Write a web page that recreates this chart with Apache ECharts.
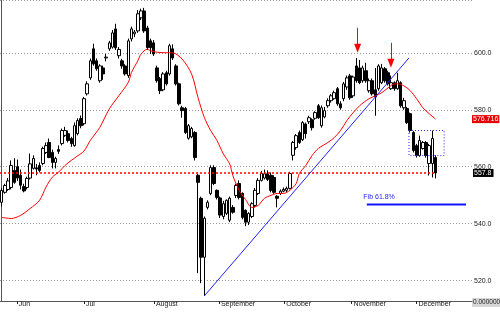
<!DOCTYPE html>
<html><head><meta charset="utf-8">
<script src="https://cdn.jsdelivr.net/npm/echarts@6/dist/echarts.min.js"></script>
<style>html,body{margin:0;padding:0;background:#fff}#c{width:500px;height:312px}</style>
</head><body><div id="c"></div>
<script>
// ---- data ----
const dayCount = 149;
const dayCategories = Array.from({length: dayCount}, (_, i) => 'day' + i);
// [open, close, low, high]
const candles = [
[547.5,551.7,546.0,552.5],[551.0,553.4,550.5,554.0],[552.0,555.0,551.5,556.0],[552.7,560.4,552.0,562.2],
[558.7,554.5,554.0,563.0],[560.0,556.0,555.0,562.5],[557.0,553.5,552.0,559.0],[553.0,551.5,551.0,554.0],
[552.7,555.9,552.0,556.5],[556.0,561.0,555.5,564.6],[559.4,562.9,559.0,564.0],[559.6,559.2,557.0,561.0],
[560.4,558.7,558.0,561.5],[561.1,566.4,560.5,567.0],[565.0,567.4,564.5,568.5],[568.5,563.2,563.0,569.9],
[565.0,561.5,559.4,566.0],[561.5,562.9,559.4,563.5],[566.0,565.4,564.5,567.5],[568.1,572.7,567.5,573.4],
[571.0,572.7,570.5,574.0],[571.6,569.2,568.5,572.7],[569.9,568.1,567.0,570.5],[567.4,574.4,567.0,575.5],
[571.6,576.2,571.0,577.0],[576.9,574.4,573.5,578.0],[575.1,583.9,574.5,584.5],[585.6,589.1,585.0,590.0],
[591.2,597.2,590.5,598.0],[601.4,596.1,595.5,603.2],[597.2,594.4,593.7,598.0],[590.2,595.4,589.5,596.0],
[594.7,592.6,590.5,595.5],[598.2,598.5,597.0,599.6],[601.4,603.5,600.7,604.2],[602.0,607.0,601.5,608.0],
[608.4,601.8,601.0,610.2],[599.0,601.2,598.0,602.0],[597.2,595.4,594.4,597.9],[595.4,592.6,592.0,596.0],
[592.0,604.2,591.2,605.0],[604.9,608.4,604.0,609.2],[606.7,607.3,605.5,608.0],[607.7,613.7,607.0,615.0],
[612.3,614.7,611.5,615.5],[614.7,607.7,607.0,615.8],[608.7,601.8,601.0,609.5],[604.2,601.8,599.6,605.0],
[603.5,599.6,598.9,604.5],[594.7,590.2,589.5,595.5],[590.9,586.7,585.5,591.5],[587.0,592.6,586.5,593.2],
[593.0,589.1,588.5,593.7],[592.6,602.5,592.0,603.2],[601.4,598.2,597.5,603.0],[595.4,589.1,588.5,596.0],
[589.1,582.1,581.5,589.5],[580.7,579.7,577.2,581.4],[580.4,572.0,571.5,581.0],[570.0,574.4,569.5,575.0],
[570.5,573.4,570.0,574.0],[572.0,563.2,562.2,572.5],[557.0,554.5,522.6,557.5],[548.9,528.2,519.1,549.5],
[528.2,541.9,514.6,542.5],[545.7,547.5,545.0,548.2],[550.6,559.7,550.0,560.5],[559.7,554.1,553.5,560.5],
[551.7,549.2,548.5,552.0],[549.0,543.0,542.0,549.5],[542.5,547.0,541.5,548.0],[543.6,548.2,543.0,548.5],
[541.2,548.9,540.5,549.5],[545.7,544.0,543.5,546.5],[549.9,553.4,549.0,554.0],[554.1,549.2,548.5,555.2],
[550.6,542.2,541.5,551.0],[544.7,540.5,539.1,545.0],[540.5,543.6,539.5,544.0],[542.5,547.0,542.0,547.5],
[546.4,551.7,545.7,552.5],[550.6,555.2,550.0,556.0],[555.2,557.6,554.8,558.5],[556.0,557.5,555.5,559.0],
[557.5,555.5,555.0,558.7],[557.0,551.7,551.0,558.0],[556.2,551.0,550.5,557.0],[549.6,548.9,545.7,550.0],
[550.6,551.4,550.0,552.0],[551.4,552.0,551.0,552.7],[551.7,552.4,551.0,553.0],[552.4,557.6,552.0,558.2],
[564.0,568.5,562.2,569.0],[566.7,570.9,566.0,571.5],[572.0,568.5,568.0,572.7],[569.5,575.5,569.0,576.0],
[575.0,571.6,569.9,575.5],[575.8,577.2,575.0,577.9],[576.5,573.7,572.7,577.0],[577.0,579.0,576.5,579.5],
[581.4,577.2,576.8,582.0],[574.4,580.7,573.7,581.5],[577.5,579.7,577.0,581.0],[581.4,583.2,580.7,584.0],
[583.2,584.9,582.5,585.5],[583.9,586.0,583.5,586.7],[587.4,582.1,581.4,588.0],[582.1,580.7,580.0,583.0],
[583.9,589.1,583.0,589.8],[588.0,591.2,587.0,592.0],[591.9,584.2,583.5,592.6],[584.9,591.5,584.2,592.0],
[595.4,590.2,589.5,598.2],[594.7,589.5,589.0,597.5],[590.2,594.7,589.5,595.5],[593.7,590.2,589.5,596.5],
[586.7,590.2,586.0,591.0],[590.2,585.6,585.0,591.0],[587.0,584.5,577.9,594.7],[587.4,595.4,586.7,596.0],
[589.5,594.7,589.0,596.1],[594.4,590.2,589.5,595.0],[593.0,589.1,588.5,593.7],[587.4,589.5,587.0,592.0],
[589.5,587.4,586.7,590.0],[587.4,590.2,587.0,593.0],[589.5,581.4,580.7,590.0],[580.7,583.2,580.0,584.2],
[580.4,575.5,575.0,581.0],[578.6,572.7,572.0,579.0],[572.0,565.7,565.0,572.5],[567.4,563.9,563.2,568.0],
[563.9,569.2,563.5,570.9],[566.4,568.5,566.0,569.0],[568.5,563.9,563.2,569.0],[561.1,567.4,556.9,568.0],
[561.1,569.9,556.2,572.7],[563.2,557.8,555.9,564.0]
];
// moving average read at selected trading-day positions
const maIndex = [0,3,6,9,12,14,16,18,20,22,24,26,28,31,34,37,40,41,43,44,46,47,50,54,57,60,62,64,66,68,70,72,73,75,77,79,81,83,85,87,89,91,93,94,96,98,100,103,105,107,109,111,113,116,118,120,122,124,125,127,129,131,133,135,137];
const maValue = [542.2,541.8,542.9,545.3,548.2,552.8,556.3,558.1,560.4,562.2,563.8,565.5,569.2,573.8,580.3,584.9,589.6,593.1,597.2,599.5,601.3,600.7,600.1,600.0,597.8,592.5,584.3,577.3,572.7,569.2,564.5,561.0,556.9,551.7,548.5,545.7,546.4,548.9,549.9,550.6,550.6,551.7,554.1,557.6,560.4,563.9,566.4,568.5,570.2,572.7,576.2,579.0,581.4,583.9,584.9,586.0,587.7,589.1,589.1,588.4,586.7,583.9,580.7,578.6,576.716];
const monthLabels = ['Jun','Jul','August','September','October','November','December'];
const monthPos = [4.8, 26.0, 48.1, 68.6, 89.2, 110.5, 131.0];
const lastClose = 557.8;
const maLast = 576.716;
const fibValue = 546.7;
const fibRange = [115.3, 146.6];
const trendStart = [64, 514.6];
const trendEnd = [128.6, 598.2];
const arrowX = [112.4, 122.9];
const arrowTop = [608.8, 603.5];
const arrowEnd = [601.6, 596.3];
const boxX = [128.6, 139.7];
const boxY = [563.9, 572.7];

// ---- chart ----
const FONT = '"Liberation Sans", Arial, sans-serif';
const chart = echarts.init(document.getElementById('c'));
const maData = maIndex.map((x, k) => [x, maValue[k]]);
const option = {
  animation: false,
  backgroundColor: '#ffffff',
  grid: {left: 0, right: 28, top: -1, bottom: 11, containLabel: false},
  xAxis: [
    {type: 'category', data: dayCategories, boundaryGap: true, show: false, position: 'bottom'},
    {type: 'value', min: -0.5, max: dayCount - 0.5, position: 'bottom',
     axisLine: {show: true, onZero: false, lineStyle: {color: '#555', width: 1}},
     axisTick: {show: true, customValues: monthPos, length: 3, lineStyle: {color: '#222'}},
     axisLabel: {show: true, customValues: monthPos, align: 'left', margin: 0, padding: [0,0,0,2],
       fontSize: 7, fontFamily: FONT, color: '#222',
       formatter: v => { const k = monthPos.findIndex(p => Math.abs(p - v) < 0.01); return k >= 0 ? monthLabels[k] : ''; }},
     splitLine: {show: false}}
  ],
  yAxis: {type: 'value', position: 'right', min: 512.822, max: 618.557,
    axisLine: {show: true, lineStyle: {color: '#555'}},
    axisTick: {show: false},
    axisLabel: {margin: 2, fontSize: 7, fontFamily: FONT, color: '#222',
      formatter: v => Math.abs(v / 20 - Math.round(v / 20)) < 1e-6 ? v.toFixed(1) : ''},
    splitLine: {show: true, lineStyle: {color: '#999', type: [1, 2], width: 1}}},
  series: [
    {type: 'candlestick', xAxisIndex: 0, yAxisIndex: 0, data: candles, barWidth: 3,
     itemStyle: {color: '#ffffff', color0: '#000000', borderColor: '#000000', borderColor0: '#000000', borderWidth: 1}},
    {type: 'line', xAxisIndex: 1, data: [[-0.5, lastClose], [137, lastClose]], symbol: 'none', silent: true,
     lineStyle: {color: '#ff0000', width: 1.5, type: [2, 2]},
     markLine: {silent: true, symbol: ['none', 'none'], animation: false,
       lineStyle: {width: 0, color: 'transparent'},
       data: [{yAxis: lastClose, label: {show: true, position: 'end', distance: 1, formatter: '557.8',
         backgroundColor: '#000', color: '#fff', fontSize: 7, fontFamily: FONT, padding: [1, 2, 0, 1]}}]}},
    {type: 'line', xAxisIndex: 1, data: maData, symbol: 'none', smooth: 0.3, silent: true,
     lineStyle: {color: '#ff0000', width: 1},
     markLine: {silent: true, symbol: ['none', 'none'], animation: false,
       lineStyle: {width: 0, color: 'transparent'},
       data: [{yAxis: maLast, label: {show: true, position: 'end', distance: 0, formatter: '576.716',
         backgroundColor: '#e60000', color: '#fff', fontSize: 7, fontFamily: FONT, padding: [1, 1, 0, 1]}}]}},
    {type: 'line', xAxisIndex: 1, data: [trendStart, trendEnd], symbol: 'none', silent: true,
     lineStyle: {color: '#2222ff', width: 1},
     markLine: {silent: true, animation: false, symbol: ['none', 'triangle'], symbolSize: [7, 9],
       label: {show: false}, lineStyle: {color: '#ff0000', width: 1, type: 'solid'},
       data: arrowX.map((x, k) => [{coord: [x, arrowTop[k]]}, {coord: [x, arrowEnd[k]]}])}},
    {type: 'line', xAxisIndex: 1, symbol: 'none', silent: true,
     data: [[boxX[0], boxY[1]], [boxX[1], boxY[1]], [boxX[1], boxY[0]], [boxX[0], boxY[0]], [boxX[0], boxY[1]]],
     lineStyle: {color: '#2222ff', width: 1, type: [1, 2]}},
    {type: 'line', xAxisIndex: 1, symbol: 'none', silent: true,
     data: [[fibRange[0], fibValue], [fibRange[1], fibValue]],
     lineStyle: {color: '#1111ff', width: 2},
     markPoint: {silent: true, animation: false, symbol: 'circle', symbolSize: 1, itemStyle: {color: 'transparent'},
       data: [{coord: [fibRange[0], fibValue], label: {show: true, position: [-3, -10], formatter: 'Fib 61.8%',
         color: '#2222ff', fontSize: 7, fontFamily: FONT}}]}}
  ],
  graphic: [
    {type: 'group', left: 472, top: 298, children: [
      {type: 'rect', shape: {x: 0, y: 0, width: 28, height: 9}, style: {fill: '#d6d6d6'}},
      {type: 'text', x: 1, y: 1, style: {text: '0.000000', fill: '#222', font: '6.5px ' + FONT}}
    ]}
  ]
};
chart.setOption(option);
</script></body></html>
